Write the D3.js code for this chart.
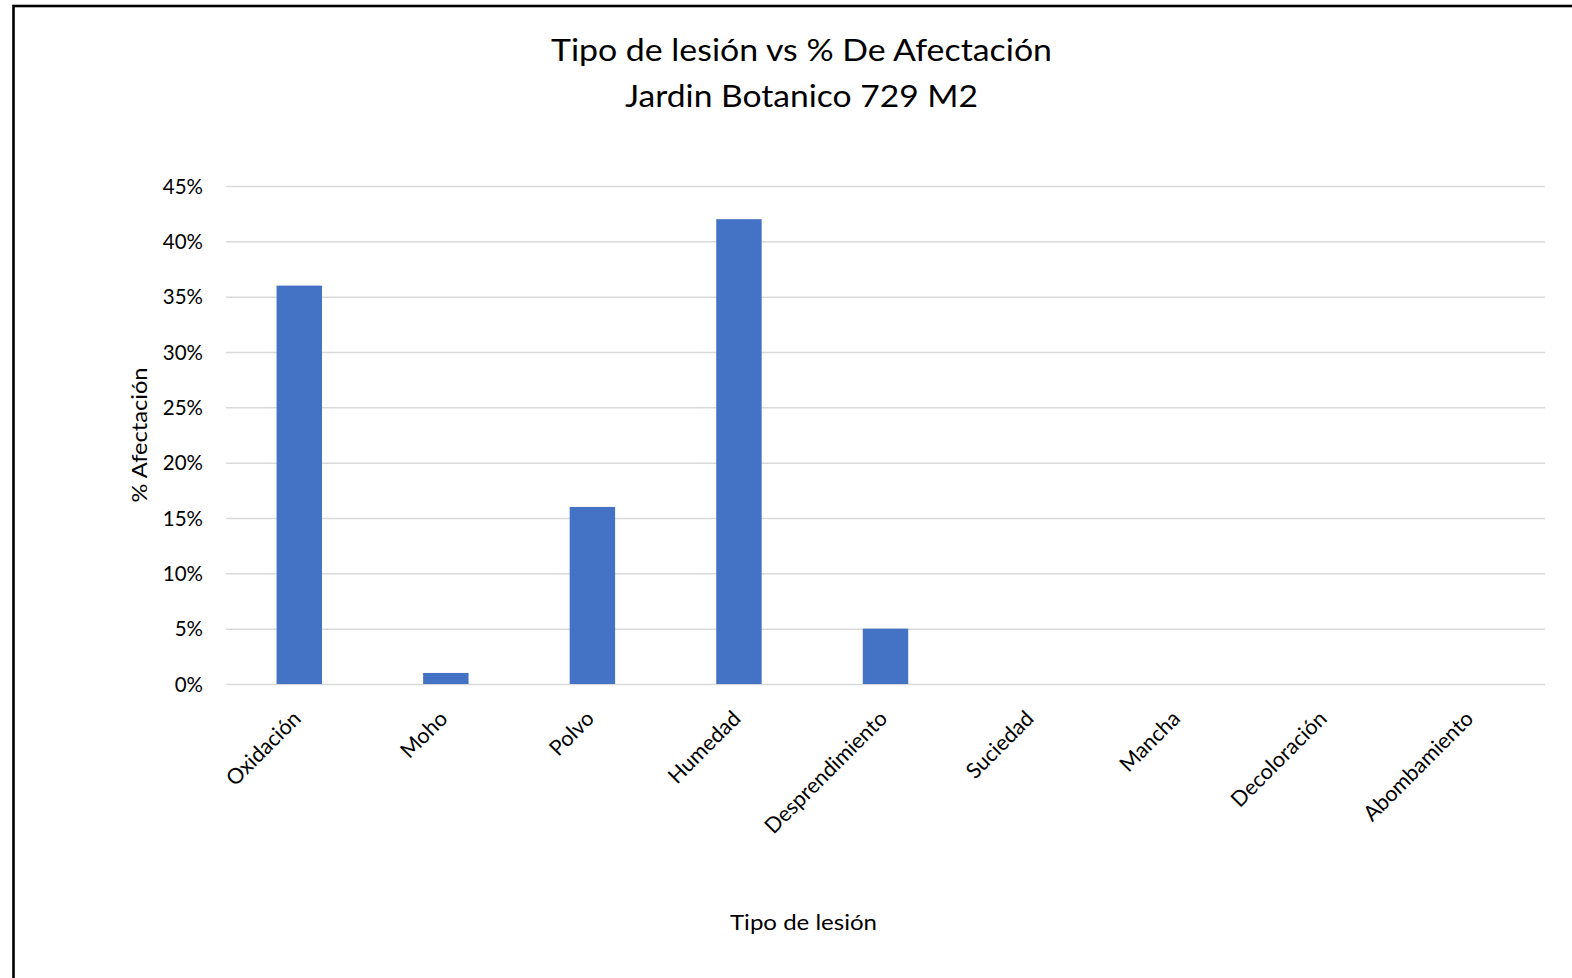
<!DOCTYPE html>
<html>
<head>
<meta charset="utf-8">
<script src="https://cdn.jsdelivr.net/npm/d3@7"></script>
<style>
  html, body { margin: 0; padding: 0; background: #fff; }
  svg { display: block; }
  text { font-family: "Lato", "Open Sans", sans-serif; fill: #000; }
</style>
</head>
<body>
<svg id="chart" width="1572" height="978"></svg>
<script>
const categories = ["Oxidación", "Moho", "Polvo", "Humedad", "Desprendimiento", "Suciedad", "Mancha", "Decoloración", "Abombamiento"];
const values = [0.36, 0.01, 0.16, 0.42, 0.05, 0, 0, 0, 0];
const yTicks = [0, 0.05, 0.10, 0.15, 0.20, 0.25, 0.30, 0.35, 0.40, 0.45];
const titleLines = ["Tipo de lesión vs % De Afectación", "Jardin Botanico 729 M2"];
const xAxisTitle = "Tipo de lesión";
const yAxisTitle = "% Afectación";

const svg = d3.select("#chart");
const plot = { left: 226, right: 1545, top: 186, bottom: 684 };

// outer chart border (right and bottom edges lie outside the picture)
svg.append("rect")
  .attr("x", 13.5).attr("y", 6)
  .attr("width", 1700).attr("height", 1100)
  .attr("fill", "none").attr("stroke", "#000").attr("stroke-width", 2.6);

const x = d3.scaleBand().domain(categories).range([plot.left, plot.right]).paddingInner(0.69).paddingOuter(0.345);
const y = d3.scaleLinear().domain([0, 0.45]).range([plot.bottom, plot.top]);

function fit(sel, w) {
  sel.attr("textLength", w).attr("lengthAdjust", "spacingAndGlyphs");
  return sel;
}

// gridlines
const grid = d3.axisLeft(y).tickValues(yTicks).tickSize(-(plot.right - plot.left)).tickFormat("");
svg.append("g").attr("transform", `translate(${plot.left},0)`).call(grid)
  .call(g => g.select(".domain").remove())
  .call(g => g.selectAll("line").attr("stroke", "#d9d9d9").attr("stroke-width", 1.5));

// y tick labels
const yAx = d3.axisLeft(y).tickValues(yTicks).tickSize(0).tickPadding(23).tickFormat(d3.format(".0%"));
svg.append("g").attr("transform", `translate(${plot.left},0)`).call(yAx)
  .call(g => g.select(".domain").remove())
  .call(g => g.selectAll("text").attr("font-size", 20.5).attr("font-family", "Lato").attr("fill", "#000").attr("dy", "0.35em"));

// bars
svg.append("g").selectAll("rect").data(categories).join("rect")
  .attr("x", d => x(d))
  .attr("width", x.bandwidth())
  .attr("y", (d, i) => y(values[i]))
  .attr("height", (d, i) => y(0) - y(values[i]))
  .attr("fill", "#4472c4");

// x category labels
const xAx = d3.axisBottom(x).tickSize(0).tickPadding(0);
svg.append("g").attr("transform", `translate(0,${plot.bottom})`).call(xAx)
  .call(g => g.select(".domain").remove())
  .call(g => g.selectAll(".tick text")
    .attr("font-size", 21.5).attr("font-family", "Lato").attr("fill", "#000")
    .attr("text-anchor", "end").attr("dy", null).attr("y", null)
    .attr("transform", "translate(3,36) rotate(-45)"));

// titles
svg.append("text").attr("x", 801.5).attr("y", 61).attr("text-anchor", "middle")
  .attr("font-size", 30).text(titleLines[0]).call(fit, 501);
svg.append("text").attr("x", 801.5).attr("y", 107).attr("text-anchor", "middle")
  .attr("font-size", 30).text(titleLines[1]).call(fit, 353);

// axis titles
svg.append("text").attr("x", 803.5).attr("y", 930).attr("text-anchor", "middle")
  .attr("font-size", 21).text(xAxisTitle).call(fit, 147);
svg.append("text").attr("transform", "translate(147,435) rotate(-90)").attr("text-anchor", "middle")
  .attr("font-size", 21).text(yAxisTitle).call(fit, 135);
</script>
</body>
</html>
